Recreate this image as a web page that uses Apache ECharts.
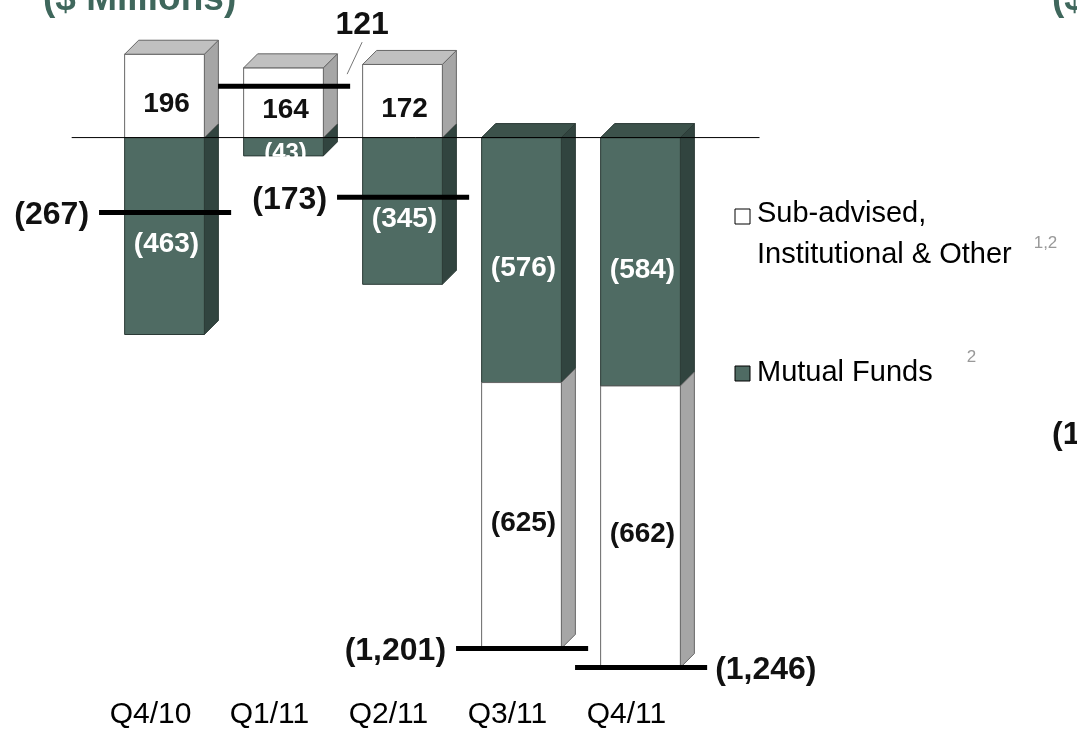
<!DOCTYPE html>
<html>
<head>
<meta charset="utf-8">
<script src="https://cdn.jsdelivr.net/npm/echarts@6/dist/echarts.min.js"></script>
<style>
  html, body { margin: 0; padding: 0; background: #fff; }
  #main { width: 1077px; height: 737px; }
</style>
</head>
<body>
<div id="main"></div>
<script>
// quarters
var categories = ['Q4/10', 'Q1/11', 'Q2/11', 'Q3/11', 'Q4/11'];
// Sub-advised, Institutional & Other
var subAdvised = [196, 164, 172, -625, -662];
// Mutual Funds
var mutualFunds = [-463, -43, -345, -576, -584];
// net flows (label text)
var netFlows = [-267, 121, -173, -1201, -1246];
// level where the net marker is drawn in the picture
var netLineLevel = [-176, 121, -140, -1201, -1246];

var FONT = '"Liberation Sans", Arial, sans-serif';
var DEPTH = 14;
var BAR = 0.67;
// where the net label sits next to its marker
var labelSide = ['left', 'top', 'left', 'left', 'right'];

function fmt(v) {
  var s = Math.abs(v).toLocaleString('en-US');
  return v < 0 ? '(' + s + ')' : s;
}

// stacked ranges: mutual funds next to zero, sub-advised on top of it (same sign)
var mfData = [], saData = [];
for (var i = 0; i < categories.length; i++) {
  var pos = 0, neg = 0;
  var mf = mutualFunds[i], sa = subAdvised[i];
  var mfBase = mf >= 0 ? pos : neg;
  if (mf >= 0) pos += mf; else neg += mf;
  var saBase = sa >= 0 ? pos : neg;
  if (sa >= 0) pos += sa; else neg += sa;
  // last field: 1 if this segment carries the top face of the bar
  mfData.push([i, mfBase, mfBase + mf, mf, Math.max(mfBase, mfBase + mf) === pos ? 1 : 0]);
  saData.push([i, saBase, saBase + sa, sa, sa > 0 ? 1 : 0]);
}
var netData = [];
for (var j = 0; j < categories.length; j++) {
  netData.push([j, netLineLevel[j], netFlows[j]]);
}

function boxRender(c) {
  return function (params, api) {
    var idx = api.value(0);
    var a = api.coord([idx, api.value(1)]);
    var b = api.coord([idx, api.value(2)]);
    var w = api.size([1, 0])[0] * BAR;
    var x0 = a[0] - w / 2, x1 = a[0] + w / 2;
    var yTop = Math.min(a[1], b[1]), yBot = Math.max(a[1], b[1]);
    var d = DEPTH;
    var kids = [
      { type: 'polygon', shape: { points: [[x1, yTop], [x1 + d, yTop - d], [x1 + d, yBot - d], [x1, yBot]] },
        style: { fill: c.side, stroke: c.stroke, lineWidth: 1 } },
      { type: 'rect', shape: { x: x0, y: yTop, width: w, height: yBot - yTop },
        style: { fill: c.front, stroke: c.stroke, lineWidth: 1 } }
    ];
    if (api.value(4)) {
      kids.push({ type: 'polygon', shape: { points: [[x0, yTop], [x0 + d, yTop - d], [x1 + d, yTop - d], [x1, yTop]] },
        style: { fill: c.top, stroke: c.stroke, lineWidth: 1 } });
    }
    var small = yBot - yTop < 30;
    kids.push({ type: 'text', style: {
      text: fmt(api.value(3)), x: a[0] + 2, y: (yTop + yBot) / 2 + (small ? 7 : 8),
      align: 'center', verticalAlign: 'middle',
      font: 'bold ' + (small ? 24 : 28) + 'px ' + FONT, fill: c.text } });
    return { type: 'group', children: kids };
  };
}

function netRender(params, api) {
  var idx = api.value(0);
  var p = api.coord([idx, api.value(1)]);
  var band = api.size([1, 0])[0];
  var xa = p[0] - band * 0.55, xb = p[0] + band * 0.56;
  var side = labelSide[idx];
  var kids = [
    { type: 'line', shape: { x1: xa, y1: p[1], x2: xb, y2: p[1] },
      style: { stroke: '#000', lineWidth: 5 } }
  ];
  var t = { text: fmt(api.value(2)), font: 'bold 32px ' + FONT, fill: '#111', verticalAlign: 'middle' };
  if (side === 'left') {
    t.x = xa - 10; t.y = p[1] + 3; t.align = 'right';
  } else if (side === 'right') {
    t.x = xb + 8; t.y = p[1] + 3; t.align = 'left';
  } else {
    t.x = xb + 12; t.y = p[1] - 61; t.align = 'center';
    kids.push({ type: 'line', shape: { x1: xb + 12, y1: p[1] - 44, x2: xb - 3, y2: p[1] - 12 },
      style: { stroke: '#777', lineWidth: 1 } });
  }
  kids.push({ type: 'text', style: t });
  return { type: 'group', children: kids };
}

function zeroRender(params, api) {
  var band = api.size([1, 0])[0];
  var a = api.coord([0, 0]);
  var b = api.coord([categories.length - 1, 0]);
  return { type: 'line', shape: { x1: a[0] - band * 0.78, y1: a[1], x2: b[0] + band * 1.0, y2: b[1] },
    style: { stroke: '#000', lineWidth: 1 } };
}

// legend text widths for the footnote marks
var ctx = document.createElement('canvas').getContext('2d');
ctx.font = '29px ' + FONT;
var wInst = ctx.measureText('Institutional & Other').width;
var wMut = ctx.measureText('Mutual Funds').width;

var chart = echarts.init(document.getElementById('main'));
chart.setOption({
  animation: false,
  grid: { left: 105, right: 377, top: 10, bottom: 38 },
  xAxis: {
    type: 'category',
    data: categories,
    axisLine: { show: false },
    axisTick: { show: false },
    axisLabel: { fontSize: 30, fontFamily: FONT, color: '#000', margin: 1, padding: [0, 28, 0, 0] }
  },
  yAxis: { type: 'value', min: -1320, max: 300, show: false },
  series: [
    { name: 'Mutual Funds', type: 'custom', data: mfData, clip: false, z: 2,
      renderItem: boxRender({ front: '#4f6b63', side: '#31443f', top: '#3c524b', stroke: '#2b3a36', text: '#fff' }) },
    { name: 'Sub-advised, Institutional & Other', type: 'custom', data: saData, clip: false, z: 3,
      renderItem: boxRender({ front: '#fff', side: '#a6a6a6', top: '#c0c0c0', stroke: '#666', text: '#111' }) },
    { name: 'zero', type: 'custom', data: [[0]], clip: false, z: 4, renderItem: zeroRender },
    { name: 'Net', type: 'custom', data: netData, clip: false, z: 5, renderItem: netRender }
  ],
  graphic: [
    { type: 'text', x: 43, y: 0, style: { text: '($ Millions)', font: 'bold 37px ' + FONT, fill: '#3f675c', verticalAlign: 'middle' } },
    { type: 'text', x: 1052, y: 0, style: { text: '($ Millions)', font: 'bold 37px ' + FONT, fill: '#3f675c', verticalAlign: 'middle' } },
    { type: 'text', x: 1052, y: 435, style: { text: '(1', font: 'bold 32px ' + FONT, fill: '#111', verticalAlign: 'middle' } },
    { type: 'rect', shape: { x: 735, y: 209, width: 15, height: 15 }, style: { fill: '#fff', stroke: '#000', lineWidth: 1 } },
    { type: 'text', x: 757, y: 214, style: { text: 'Sub-advised,', font: '29px ' + FONT, fill: '#000', verticalAlign: 'middle' } },
    { type: 'text', x: 757, y: 255, style: { text: 'Institutional & Other', font: '29px ' + FONT, fill: '#000', verticalAlign: 'middle' } },
    { type: 'text', x: 757 + wInst + 22, y: 243, style: { text: '1,2', font: '17px ' + FONT, fill: '#999', verticalAlign: 'middle' } },
    { type: 'rect', shape: { x: 735, y: 366, width: 15, height: 15 }, style: { fill: '#4f6b63', stroke: '#000', lineWidth: 1 } },
    { type: 'text', x: 757, y: 373, style: { text: 'Mutual Funds', font: '29px ' + FONT, fill: '#000', verticalAlign: 'middle' } },
    { type: 'text', x: 757 + wMut + 34, y: 357, style: { text: '2', font: '17px ' + FONT, fill: '#999', verticalAlign: 'middle' } }
  ]
});
</script>
</body>
</html>
